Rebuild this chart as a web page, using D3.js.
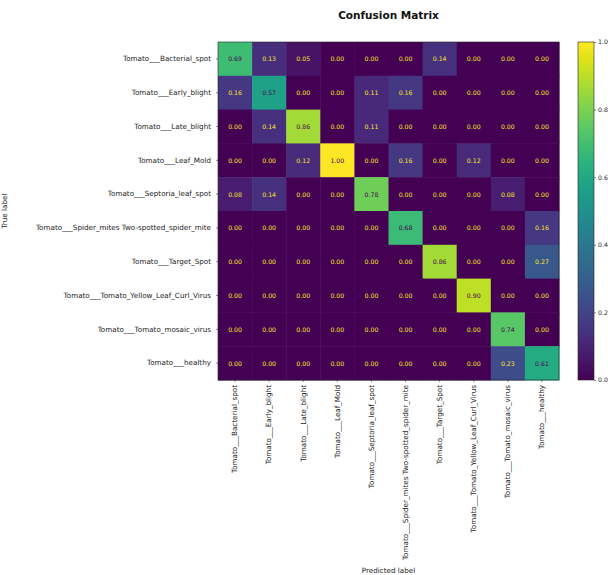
<!DOCTYPE html>
<html>
<head>
<meta charset="utf-8">
<script src="https://cdn.jsdelivr.net/npm/d3@7/dist/d3.min.js"></script>
<style>
  html, body { margin: 0; padding: 0; background: #fff; }
  svg { display: block; font-family: "DejaVu Sans", sans-serif; }
</style>
</head>
<body>
<svg id="chart" width="611" height="575"></svg>
<script>
// Class names (rows = true label, columns = predicted label)
const classes = [
  "Tomato___Bacterial_spot",
  "Tomato___Early_blight",
  "Tomato___Late_blight",
  "Tomato___Leaf_Mold",
  "Tomato___Septoria_leaf_spot",
  "Tomato___Spider_mites Two-spotted_spider_mite",
  "Tomato___Target_Spot",
  "Tomato___Tomato_Yellow_Leaf_Curl_Virus",
  "Tomato___Tomato_mosaic_virus",
  "Tomato___healthy"
];

// Normalized confusion matrix, one row per true class
const rowBacterialSpot = [0.69, 0.13, 0.05, 0.00, 0.00, 0.00, 0.14, 0.00, 0.00, 0.00];
const rowEarlyBlight   = [0.16, 0.57, 0.00, 0.00, 0.11, 0.16, 0.00, 0.00, 0.00, 0.00];
const rowLateBlight    = [0.00, 0.14, 0.86, 0.00, 0.11, 0.00, 0.00, 0.00, 0.00, 0.00];
const rowLeafMold      = [0.00, 0.00, 0.12, 1.00, 0.00, 0.16, 0.00, 0.12, 0.00, 0.00];
const rowSeptoria      = [0.08, 0.14, 0.00, 0.00, 0.78, 0.00, 0.00, 0.00, 0.08, 0.00];
const rowSpiderMites   = [0.00, 0.00, 0.00, 0.00, 0.00, 0.68, 0.00, 0.00, 0.00, 0.16];
const rowTargetSpot    = [0.00, 0.00, 0.00, 0.00, 0.00, 0.00, 0.86, 0.00, 0.00, 0.27];
const rowYellowCurl    = [0.00, 0.00, 0.00, 0.00, 0.00, 0.00, 0.00, 0.90, 0.00, 0.00];
const rowMosaic        = [0.00, 0.00, 0.00, 0.00, 0.00, 0.00, 0.00, 0.00, 0.74, 0.00];
const rowHealthy       = [0.00, 0.00, 0.00, 0.00, 0.00, 0.00, 0.00, 0.00, 0.23, 0.61];

const matrix = [rowBacterialSpot, rowEarlyBlight, rowLateBlight, rowLeafMold, rowSeptoria,
                rowSpiderMites, rowTargetSpot, rowYellowCurl, rowMosaic, rowHealthy];

const colorbarTicks = [0.0, 0.2, 0.4, 0.6, 0.8, 1.0];

const svg = d3.select("#chart");

// Plot area
const plotLeft = 218, plotTop = 42, plotW = 341, plotH = 338;
const labelSize = 7.2;

const x = d3.scaleBand().domain(d3.range(classes.length)).range([plotLeft, plotLeft + plotW]);
const y = d3.scaleBand().domain(d3.range(classes.length)).range([plotTop, plotTop + plotH]);
const color = d3.scaleSequential(d3.interpolateViridis).domain([0, 1]);

const cells = [];
matrix.forEach((row, i) => row.forEach((v, j) => cells.push({ i, j, v })));

// Heatmap cells
svg.append("g").selectAll("rect").data(cells).join("rect")
  .attr("x", d => x(d.j))
  .attr("y", d => y(d.i))
  .attr("width", x.bandwidth() + 0.5)
  .attr("height", y.bandwidth() + 0.5)
  .attr("fill", d => color(d.v));

// Cell annotations: light text on dark cells, dark text on bright cells
const lo = color(0), hi = color(1);
svg.append("g").selectAll("text").data(cells).join("text")
  .attr("x", d => x(d.j) + x.bandwidth() / 2)
  .attr("y", d => y(d.i) + y.bandwidth() / 2)
  .attr("text-anchor", "middle")
  .attr("dominant-baseline", "central")
  .attr("font-size", 6.2)
  .attr("fill", d => d.v < 0.5 ? hi : lo)
  .text(d => d3.format(".2f")(d.v));

// Frame
svg.append("rect")
  .attr("x", plotLeft).attr("y", plotTop).attr("width", plotW).attr("height", plotH)
  .attr("fill", "none").attr("stroke", "#222").attr("stroke-width", 0.6);

// Axes
const yAxis = svg.append("g")
  .attr("transform", `translate(${plotLeft},0)`)
  .call(d3.axisLeft(y).tickSize(2).tickPadding(5).tickFormat(i => classes[i]));
const xAxis = svg.append("g")
  .attr("transform", `translate(0,${plotTop + plotH})`)
  .call(d3.axisBottom(x).tickSize(2).tickPadding(3).tickFormat(i => classes[i]));

[xAxis, yAxis].forEach(g => {
  g.select(".domain").remove();
  g.selectAll(".tick line").attr("stroke", "#333").attr("stroke-width", 0.6);
  g.selectAll(".tick text").attr("font-size", labelSize).attr("fill", "#222")
    .attr("font-family", "DejaVu Sans, sans-serif");
});

xAxis.selectAll(".tick text")
  .attr("transform", "rotate(-90)")
  .attr("text-anchor", "end")
  .attr("x", -5)
  .attr("y", 0)
  .attr("dy", "0.32em");

// Axis titles
svg.append("text")
  .attr("x", plotLeft + plotW / 2).attr("y", 573)
  .attr("text-anchor", "middle").attr("font-size", labelSize).attr("fill", "#222")
  .text("Predicted label");

svg.append("text")
  .attr("transform", `translate(7,${plotTop + plotH / 2}) rotate(-90)`)
  .attr("text-anchor", "middle").attr("font-size", labelSize).attr("fill", "#222")
  .text("True label");

// Title
svg.append("text")
  .attr("x", plotLeft + plotW / 2).attr("y", 19)
  .attr("text-anchor", "middle").attr("font-size", 10.5).attr("font-weight", "bold")
  .attr("fill", "#111")
  .text("Confusion Matrix");

// Colorbar
const cbX = 578, cbW = 16;
const cbScale = d3.scaleLinear().domain([0, 1]).range([plotTop + plotH, plotTop]);
const grad = svg.append("defs").append("linearGradient")
  .attr("id", "viridis-grad").attr("x1", 0).attr("y1", 1).attr("x2", 0).attr("y2", 0);
grad.selectAll("stop").data(d3.range(0, 1.0001, 0.05)).join("stop")
  .attr("offset", d => d)
  .attr("stop-color", d => color(d));

svg.append("rect")
  .attr("x", cbX).attr("y", plotTop).attr("width", cbW).attr("height", plotH)
  .attr("fill", "url(#viridis-grad)")
  .attr("stroke", "#222").attr("stroke-width", 0.6);

const cbAxis = svg.append("g")
  .attr("transform", `translate(${cbX + cbW},0)`)
  .call(d3.axisRight(cbScale).tickValues(colorbarTicks).tickSize(2).tickPadding(2)
    .tickFormat(d3.format(".1f")));
cbAxis.select(".domain").remove();
cbAxis.selectAll(".tick line").attr("stroke", "#333").attr("stroke-width", 0.6);
cbAxis.selectAll(".tick text").attr("font-size", 6.2).attr("fill", "#222")
  .attr("font-family", "DejaVu Sans, sans-serif");
</script>
</body>
</html>
